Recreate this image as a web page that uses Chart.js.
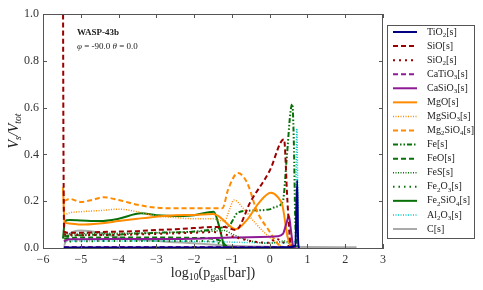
<!DOCTYPE html>
<html>
<head>
<meta charset="utf-8">
<script src="https://cdn.jsdelivr.net/npm/chart.js@4.4.0/dist/chart.umd.min.js"></script>
<style>
html, body { margin: 0; padding: 0; background: #fff; }
canvas { display: block; }
</style>
</head>
<body>
<canvas id="chart" width="483" height="290"></canvas>
<script>
// axis ticks
var xTicks = [-6, -5, -4, -3, -2, -1, 0, 1, 2, 3];
var yTicks = [0.0, 0.2, 0.4, 0.6, 0.8, 1.0];

// species (legend order)
var species = ['TiO_2[s]', 'SiO[s]', 'SiO_2[s]', 'CaTiO_3[s]', 'CaSiO_3[s]', 'MgO[s]', 'MgSiO_3[s]', 'Mg_2SiO_4[s]',
    'Fe[s]', 'FeO[s]', 'FeS[s]', 'Fe_2O_3[s]', 'Fe_2SiO_4[s]', 'Al_2O_3[s]', 'C[s]'];

// volume fractions vs log10(p_gas)
var xTiO2 = [-5.45, -3, -1, 0.5, 0.68, 0.73, 0.75, 0.77];
var yTiO2 = [0.002, 0.002, 0.002, 0.003, 0.01, 0.29, 0.05, 0];
var xSiO = [-5.47, -5.46, -5.44, -5.3, -5, -4.5, -4, -3.5, -3, -2.5, -2, -1.5, -1.2, -0.9, -0.5, 0, 0.38, 0.47, 0.55, 0.62];
var ySiO = [1.1, 0.5, 0.07, 0.065, 0.065, 0.068, 0.07, 0.072, 0.077, 0.08, 0.085, 0.09, 0.09, 0.077, 0.2, 0.33, 0.465, 0.2, 0.02, 0];
var xSiO2 = [-5.44, -5, -4, -3, -2, -1.5, -1, -0.5, 0, 0.16, 0.35, 0.5, 0.6];
var ySiO2 = [0.058, 0.055, 0.056, 0.06, 0.065, 0.068, 0.05, 0.03, 0.022, 0.04, 0.025, 0.008, 0];
var xCaTiO3 = [-5.45, -3, -1, 0.3, 0.6, 0.7];
var yCaTiO3 = [0.004, 0.004, 0.004, 0.004, 0.004, 0];
var xCaSiO3 = [-5.45, -5.3, -4, -2, -1, 0, 0.2, 0.35, 0.45, 0.51, 0.56, 0.62, 0.7];
var yCaSiO3 = [0.03, 0.037, 0.038, 0.04, 0.045, 0.048, 0.05, 0.06, 0.11, 0.137, 0.08, 0.01, 0];
var xMgO = [-5.47, -5.43, -5.3, -5, -4.5, -4, -3.5, -3, -2.5, -2, -1.5, -1.3, -1.1, -0.9, -0.6, -0.3, 0.03, 0.2, 0.34, 0.47, 0.55, 0.62];
var yMgO = [0.26, 0.11, 0.105, 0.1, 0.105, 0.115, 0.125, 0.134, 0.14, 0.141, 0.145, 0.13, 0.1, 0.08, 0.12, 0.19, 0.236, 0.22, 0.18, 0.05, 0.01, 0];
var xMgSiO3 = [-5.44, -5.3, -5, -4.5, -4, -3.5, -3, -2.5, -2, -1.5, -1.2, -1.05, -0.95, -0.7, -0.4, -0.1, 0.2, 0.4];
var yMgSiO3 = [0.14, 0.15, 0.155, 0.16, 0.166, 0.155, 0.137, 0.13, 0.125, 0.125, 0.115, 0.17, 0.205, 0.17, 0.11, 0.06, 0.02, 0];
var xMg2SiO4 = [-5.44, -5.3, -5, -4.7, -4.4, -4, -3.5, -3, -2.5, -2, -1.5, -1.25, -1.1, -0.84, -0.6, -0.33, -0.03, 0.2, 0.35];
var yMg2SiO4 = [0.2, 0.21, 0.197, 0.205, 0.217, 0.205, 0.185, 0.172, 0.17, 0.17, 0.17, 0.17, 0.25, 0.32, 0.28, 0.155, 0.077, 0.02, 0];
var xFe = [-5.44, -5, -4, -3, -2, -1.5, -1.2, -1.05, -0.85, -0.5, 0, 0.16, 0.35, 0.45, 0.55, 0.6, 0.64, 0.68, 0.72];
var yFe = [0.05, 0.055, 0.058, 0.065, 0.07, 0.08, 0.09, 0.1, 0.15, 0.16, 0.165, 0.176, 0.2, 0.38, 0.58, 0.615, 0.45, 0.1, 0];
var xFeO = [-5.44, -5, -4, -3, -2, -1.5, -1.3, -1.1, -0.8];
var yFeO = [0.04, 0.045, 0.045, 0.045, 0.043, 0.04, 0.03, 0.005, 0];
var xFeS = [-5.44, -5, -4, -3, -2, -1.5, -1.2, -1, -0.5, 0, 0.4, 0.6, 0.7];
var yFeS = [0.06, 0.062, 0.063, 0.065, 0.07, 0.072, 0.075, 0.06, 0.03, 0.02, 0.03, 0.01, 0];
var xFe2O3 = [-5.44, -4, -3, -2, -1.5, -1.2, -1];
var yFe2O3 = [0.028, 0.03, 0.03, 0.03, 0.028, 0.01, 0];
var xFe2SiO4 = [-5.47, -5.42, -5.3, -5, -4.5, -4, -3.4, -3, -2.3, -2, -1.48, -1.35, -1.2];
var yFe2SiO4 = [0.04, 0.115, 0.12, 0.118, 0.115, 0.125, 0.148, 0.14, 0.137, 0.14, 0.155, 0.1, 0];
var xAl2O3 = [-5.44, -3, -1, 0, 0.5, 0.68, 0.72, 0.74, 0.76];
var yAl2O3 = [0.03, 0.03, 0.025, 0.022, 0.022, 0.03, 0.51, 0.3, 0];
var xC = [-5.44, -5.3, -5, -4.5, -4, -3, -2, -1, 0, 1, 2.3];
var yC = [0.01, 0.06, 0.075, 0.065, 0.045, 0.03, 0.02, 0.01, 0.005, 0.004, 0.003];

var NAVY = '#000080', DRED = '#9a0000', PURP = '#8e1a96', ORNG = '#ff8c00', GRN = '#087008', CYAN = '#00cccc', GRAY = '#aaaaaa';

function pts(xs, ys) {
    return xs.map(function(x, i) { return { x: x, y: ys[i] }; });
}

var styles = [
    [xTiO2, yTiO2, NAVY, [], 2],
    [xSiO, ySiO, DRED, [5, 3], 2],
    [xSiO2, ySiO2, DRED, [2, 4], 2],
    [xCaTiO3, yCaTiO3, PURP, [5, 3], 2],
    [xCaSiO3, yCaSiO3, PURP, [], 2],
    [xMgO, yMgO, ORNG, [], 2],
    [xMgSiO3, yMgSiO3, ORNG, [1, 1.5], 1.5],
    [xMg2SiO4, yMg2SiO4, ORNG, [5, 3], 2],
    [xFe, yFe, GRN, [5, 2, 1.5, 2, 1.5, 2], 2],
    [xFeO, yFeO, GRN, [5, 3], 2],
    [xFeS, yFeS, GRN, [1, 1.5], 1.5],
    [xFe2O3, yFe2O3, GRN, [1.5, 4], 2],
    [xFe2SiO4, yFe2SiO4, GRN, [], 2],
    [xAl2O3, yAl2O3, CYAN, [1, 1.5], 1.5],
    [xC, yC, GRAY, [], 2]
];

var datasets = styles.map(function(s, i) {
    return {
        label: species[i],
        data: pts(s[0], s[1]),
        borderColor: s[2],
        borderDash: s[3],
        borderWidth: s[4],
        pointRadius: 0,
        fill: false,
        cubicInterpolationMode: 'monotone'
    };
});

var SERIF = '"Liberation Serif", "DejaVu Serif", serif';

// text with _x / _{xy} subscripts and *italic* runs
function parseRich(s) {
    var out = [], re = /_\{([^}]*)\}|_(.)|\*([^*]*)\*/g, last = 0, m;
    while ((m = re.exec(s))) {
        if (m.index > last) out.push({ t: s.slice(last, m.index), sub: false });
        if (m[3] !== undefined) out.push({ t: m[3], sub: false, it: true });
        else out.push({ t: m[1] !== undefined ? m[1] : m[2], sub: true });
        last = re.lastIndex;
    }
    if (last < s.length) out.push({ t: s.slice(last), sub: false });
    return out;
}
function drawRich(ctx, s, x, y, size, align, style) {
    var segs = parseRich(s), w = 0;
    function font(g) {
        var st = style ? style + ' ' : (g.it ? 'italic ' : '');
        return st + (g.sub ? size * 0.7 : size) + 'px ' + SERIF;
    }
    segs.forEach(function(g) {
        ctx.font = font(g);
        g.w = ctx.measureText(g.t).width;
        w += g.w;
    });
    var cx = align === 'center' ? x - w / 2 : x;
    ctx.textAlign = 'left';
    ctx.textBaseline = 'middle';
    segs.forEach(function(g) {
        ctx.font = font(g);
        ctx.fillText(g.t, cx, g.sub ? y + size * 0.3 : y);
        cx += g.w;
    });
}

var decorPlugin = {
    id: 'decor',
    afterDraw: function(chart) {
        var ctx = chart.ctx, a = chart.chartArea;
        var xs = chart.scales.x, ys = chart.scales.y;
        ctx.save();
        // frame top/right + inward ticks
        ctx.strokeStyle = '#555';
        ctx.lineWidth = 1;
        ctx.setLineDash([]);
        ctx.beginPath();
        ctx.moveTo(a.left, a.top + 0.5); ctx.lineTo(a.right, a.top + 0.5);
        ctx.moveTo(a.right - 0.5, a.top); ctx.lineTo(a.right - 0.5, a.bottom);
        xTicks.forEach(function(v) {
            var px = Math.round(xs.getPixelForValue(v)) + 0.5;
            ctx.moveTo(px, a.bottom); ctx.lineTo(px, a.bottom - 4);
            ctx.moveTo(px, a.top); ctx.lineTo(px, a.top + 4);
        });
        yTicks.forEach(function(v) {
            var py = Math.round(ys.getPixelForValue(v)) + 0.5;
            ctx.moveTo(a.left, py); ctx.lineTo(a.left + 4, py);
            ctx.moveTo(a.right, py); ctx.lineTo(a.right - 4, py);
        });
        ctx.stroke();

        // axis titles
        ctx.fillStyle = '#222';
        drawRich(ctx, 'log_{10}(p_{gas}[bar])', (a.left + a.right) / 2, 273, 14, 'center');
        ctx.save();
        ctx.translate(14, (a.top + a.bottom) / 2);
        ctx.rotate(-Math.PI / 2);
        drawRich(ctx, 'V_s/V_{tot}', 0, 0, 14, 'center', 'italic');
        ctx.restore();

        // annotation
        ctx.font = 'bold 9px ' + SERIF;
        ctx.textAlign = 'left';
        ctx.textBaseline = 'middle';
        ctx.fillText('WASP-43b', 77, 33);
        drawRich(ctx, '*φ* = -90.0 *θ* = 0.0', 77, 47, 9, 'left');

        // legend
        var lx = 387, ly = 25, lw = 87, lh = 213;
        ctx.fillStyle = '#fff';
        ctx.fillRect(lx, ly, lw, lh);
        ctx.strokeStyle = '#555';
        ctx.strokeRect(lx + 0.5, ly + 0.5, lw, lh);
        chart.data.datasets.forEach(function(ds, i) {
            var y = 32 + i * 14.07;
            ctx.strokeStyle = ds.borderColor;
            ctx.lineWidth = ds.borderWidth;
            ctx.setLineDash(ds.borderDash);
            ctx.beginPath();
            ctx.moveTo(393, y); ctx.lineTo(417, y);
            ctx.stroke();
            ctx.setLineDash([]);
            ctx.fillStyle = '#222';
            drawRich(ctx, ds.label, 427, y, 10, 'left');
        });
        ctx.restore();
    }
};

new Chart(document.getElementById('chart'), {
    type: 'line',
    data: { datasets: datasets },
    plugins: [decorPlugin],
    options: {
        responsive: false,
        animation: false,
        layout: { padding: { top: 14, right: 100, left: 0, bottom: 0 } },
        plugins: { legend: { display: false }, tooltip: { enabled: false } },
        scales: {
            x: {
                type: 'linear',
                min: -6, max: 3,
                afterBuildTicks: function(s) { s.ticks = xTicks.map(function(v) { return { value: v }; }); },
                afterFit: function(s) { s.height = 42; },
                grid: { display: false, drawTicks: false },
                border: { color: '#555' },
                ticks: {
                    padding: 5,
                    color: '#333',
                    font: { family: SERIF, size: 12 },
                    callback: function(v) { return v < 0 ? '\u2212' + Math.abs(v) : String(v); }
                }
            },
            y: {
                min: 0, max: 1,
                afterBuildTicks: function(s) { s.ticks = yTicks.map(function(v) { return { value: v }; }); },
                afterFit: function(s) { s.width = 43; },
                grid: { display: false, drawTicks: false },
                border: { color: '#555' },
                ticks: {
                    padding: 4,
                    color: '#333',
                    font: { family: SERIF, size: 12 },
                    callback: function(v) { return v.toFixed(1); }
                }
            }
        }
    }
});
</script>
</body>
</html>
